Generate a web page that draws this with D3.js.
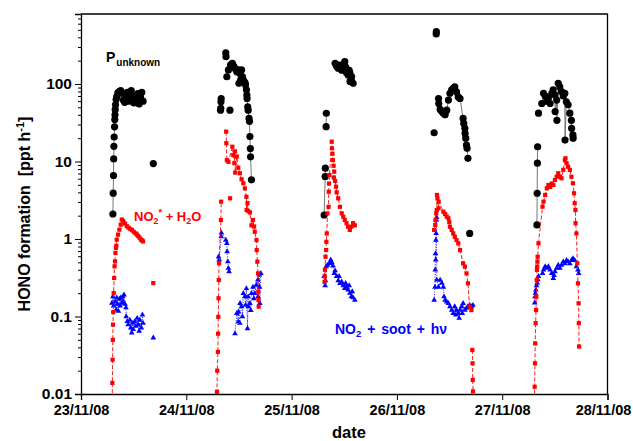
<!DOCTYPE html>
<html><head><meta charset="utf-8">
<script src="https://cdn.jsdelivr.net/npm/d3@7/dist/d3.min.js"></script>
<style>
body{margin:0;background:#fff;}
svg{display:block;font-family:Arial,"Liberation Sans",sans-serif;}
</style></head><body>
<svg id="chart" width="633" height="441"></svg>
<script>
// ---------- data ----------
const dayLabels = ["23/11/08","24/11/08","25/11/08","26/11/08","27/11/08","28/11/08"];
const yTicks = [0.01, 0.1, 1, 10, 100];
const yTickLabels = ["0.01", "0.1", "1", "10", "100"];

// [hours since 23/11/08 00:00, ppt h-1]; each inner array is one connected run
const pUnknown = [
  [[7.27,2.1],[7.34,3.9],[7.41,6.6],[7.45,10.8],[7.5,15.7],[7.55,20.7],[7.65,28],[7.7,34.7],[7.75,40],[7.8,46.6],[7.87,54],[8.01,63],[8.15,69],[8.39,77],[8.69,80],[9.05,82],[9.35,76],[9.65,62],[9.95,58],[10.25,65],[10.55,78],[10.85,60],[11.15,72],[11.45,82],[11.75,64],[12.05,57],[12.35,70],[12.65,60],[12.95,75],[13.25,55],[13.55,68],[13.85,78],[14.15,60]],
  [[16.48,9.4]],
  [[31.8,46],[31.85,48.6],[31.9,59],[31.95,65]],
  [[33.0,253],[33.05,225]],
  [[33.24,124],[33.6,152],[34.1,176],[34.5,185],[34.8,170],[35.1,159],[35.5,144],[35.85,152],[36.0,102],[36.2,137],[36.4,113],[36.6,152],[36.8,124],[37.0,113],[37.35,105],[37.5,98],[37.7,84],[37.8,72],[37.85,65],[38.0,50.6],[38.1,46],[38.3,36],[38.4,33],[38.5,21],[38.6,14.7],[38.65,11.5],[38.85,5.8]],
  [[33.95,46]],
  [[55.42,2.04],[55.65,6.4],[55.68,8.2]],
  [[55.87,28.1],[55.92,41.9]],
  [[57.92,185],[58.27,170],[58.62,160],[59.02,175],[59.42,150],[59.77,178],[60.12,194],[60.32,165],[60.52,140],[60.92,130],[61.12,150],[61.27,140],[61.32,108],[61.62,112],[61.67,125],[62.02,102]],
  [[80.49,23.5]],
  [[80.96,442],[80.99,473]],
  [[81.49,65],[81.54,56],[81.86,47],[82.24,44],[82.59,42],[82.99,40],[83.36,46],[83.74,62],[84.09,76],[84.49,84],[84.84,88],[85.19,92],[85.59,79],[85.99,68],[86.39,65],[87.09,36],[87.24,31],[87.49,26.8],[87.54,23],[87.69,20],[87.86,16.3],[87.99,14.8],[88.19,11]],
  [[88.59,1.18]],
  [[103.92,1.52],[103.97,3.89],[104.02,9.5],[104.07,15.5]],
  [[104.27,42]],
  [[105.02,56],[105.42,76],[105.82,70],[106.12,60],[106.52,66],[106.92,56],[107.32,76],[107.62,84],[108.02,72],[108.07,44],[108.42,62],[108.47,34],[108.77,102],[109.12,92],[109.52,80],[109.92,70],[110.27,76],[110.32,18.9],[110.62,59],[111.02,54],[111.42,42],[111.77,34],[111.82,26.8],[112.12,22],[112.17,20]]
];

const no2H2O = [
  [[7.1,0.006],[7.15,0.0139],[7.2,0.0277],[7.25,0.05],[7.3,0.0785],[7.35,0.114],[7.45,0.2],[7.55,0.314],[7.65,0.444],[7.75,0.515],[7.85,0.66],[7.95,0.766],[8.05,0.82],[8.15,0.98],[8.45,1.14],[8.75,1.32],[9.05,1.53],[9.3,1.78],[9.65,1.7],[10.05,1.58],[10.45,1.46],[10.85,1.4],[11.25,1.34],[11.65,1.3],[12.05,1.23],[12.45,1.18],[12.75,1.14],[13.05,1.09],[13.35,1.04],[13.65,0.98],[13.95,0.96],[14.15,0.93]],
  [[16.48,0.27]],
  [[30.95,0.005],[30.99,0.0107],[31.06,0.02],[31.2,0.035],[31.25,0.06],[31.3,0.099],[31.35,0.172],[31.4,0.296],[31.45,0.486],[31.9,1.76],[31.95,3.03]],
  [[33.08,24.3],[33.12,17.2],[33.24,10.4],[33.6,9.9],[34.5,15.5],[34.7,12.1],[34.95,9.5],[35.1,13.5],[35.15,7.2],[35.5,11.6],[35.85,8.3],[36.2,7.05],[36.6,5.9],[37.0,5.24],[37.35,4.5],[37.7,3.5],[37.75,2.37],[37.95,2.9],[38.1,2.3],[38.5,2.2],[38.85,1.5],[39.2,1.76],[39.45,1.45],[39.6,1.24],[40.0,0.97],[40.05,0.72],[40.2,0.51],[40.35,0.36],[40.4,0.209],[40.45,0.163],[40.5,0.134]],
  [[33.98,3.35]],
  [[55.52,0.28],[55.57,0.33],[55.6,0.4],[55.72,0.59],[55.87,0.72],[55.92,0.92],[56.02,1.18],[56.17,2.14],[56.42,2.6],[56.47,4.07],[56.52,5.2],[56.62,6.7],[57.15,18],[57.2,14.8],[57.32,12.6],[57.42,10.4],[57.57,8.8],[57.62,6.2],[57.72,7.4],[57.92,5.6],[58.12,4.73],[58.27,4.0],[58.62,3.35],[59.02,2.6],[59.42,2.14],[59.77,1.94],[60.12,1.76],[60.52,1.6],[60.87,1.44],[61.27,1.31],[61.62,1.44],[62.02,1.6],[62.42,1.5]],
  [[80.49,1.31],[80.74,1.52],[80.79,1.76],[80.96,2.14],[81.09,2.37],[81.14,3.7],[81.24,3.35],[81.49,2.49],[81.52,3.03],[82.59,2.25],[82.99,2.1],[83.36,1.94],[83.74,1.85],[83.94,1.65],[84.09,1.44],[84.49,1.31],[84.84,1.18],[85.19,1.07],[85.59,0.97],[85.99,0.88],[86.39,0.72],[87.09,0.486],[87.49,0.44],[87.86,0.36],[88.19,0.268],[88.59,0.134],[88.99,0.121]],
  [[89.19,0.037],[89.24,0.0249],[89.29,0.0152],[89.34,0.0108]],
  [[103.32,0.005],[103.39,0.0124],[103.47,0.0249],[103.52,0.045],[103.62,0.082],[103.72,0.121],[103.77,0.18],[103.87,0.296],[103.92,0.4],[103.97,0.44],[104.02,0.51],[104.07,0.59],[104.27,0.88],[105.19,2.61],[105.42,3.03],[105.79,3.7],[106.17,4.5],[106.52,4.97],[106.92,4.7],[107.29,5.2],[107.65,4.97],[108.02,5.77],[108.42,6.37],[108.77,7.05],[109.16,6.37],[109.52,6.07],[109.92,7.8],[110.29,10.4],[110.42,11],[110.67,9.5],[111.02,8.57],[111.42,7.8],[111.78,6.37],[112.12,5.24],[112.37,3.89],[112.52,2.89],[112.69,2.37],[112.72,1.6],[112.92,1.18],[113.12,0.486],[113.27,0.268],[113.42,0.148],[113.47,0.082],[113.52,0.041]]
];

const no2Soot = [
  [[7.05,0.149],[7.27,0.18],[7.42,0.137],[7.79,0.155],[8.02,0.122],[8.15,0.175],[8.31,0.145],[8.53,0.117],[8.75,0.168],[8.91,0.137],[9.06,0.175],[9.29,0.149],[9.51,0.18],[9.66,0.155],[9.81,0.19],[10.04,0.145],[10.25,0.13],[10.3,0.1],[10.55,0.0864],[10.75,0.0785],[11.15,0.09],[11.35,0.0713],[11.55,0.0617],[11.75,0.082],[11.9,0.068],[12.25,0.0864],[12.5,0.075],[12.8,0.095],[13.05,0.0785],[13.25,0.065],[13.4,0.09],[13.75,0.0713],[14.0,0.105],[14.15,0.082]],
  [[16.48,0.053]],
  [[31.35,0.59],[31.5,0.54],[31.95,1.07],[32.0,1.2],[33.0,0.97],[33.24,0.88],[33.3,0.69],[33.46,0.51],[33.6,0.42],[33.75,0.38]],
  [[35.1,0.06],[35.5,0.11],[35.85,0.0856],[35.9,0.115],[36.2,0.082],[36.25,0.148],[36.6,0.134],[36.8,0.1],[37.0,0.199],[37.35,0.18],[37.5,0.14],[37.7,0.23],[37.95,0.07],[38.1,0.18],[38.15,0.134],[38.5,0.148],[38.7,0.12],[38.85,0.199],[39.2,0.24],[39.4,0.17],[39.6,0.199],[39.95,0.254],[40.3,0.296],[40.35,0.18],[40.65,0.344],[40.7,0.24],[40.75,0.148],[41.0,0.36]],
  [[55.42,0.33],[55.65,0.25],[55.72,0.29],[55.87,0.44],[56.17,0.46],[56.62,0.486],[56.92,0.54],[57.15,0.5],[57.42,0.45],[57.72,0.36],[57.92,0.39],[58.27,0.33],[58.62,0.29],[58.82,0.33],[59.02,0.268],[59.42,0.28],[59.77,0.25],[60.12,0.23],[60.32,0.268],[60.52,0.24],[60.87,0.22],[61.12,0.25],[61.27,0.2],[61.62,0.18],[61.82,0.21],[62.02,0.175],[62.42,0.163]],
  [[80.49,0.163],[80.69,0.24],[80.74,0.4],[80.79,0.65],[80.84,0.54],[80.89,0.97],[80.94,1.18],[80.99,1.76],[81.04,1.9],[81.09,0.296],[81.49,0.24],[81.86,0.296],[82.24,0.27],[82.59,0.24],[82.74,0.18],[82.99,0.163],[83.36,0.155],[83.74,0.148],[84.09,0.134],[84.49,0.121],[84.84,0.11],[85.19,0.134],[85.44,0.105],[85.59,0.121],[85.99,0.11],[86.19,0.095],[86.39,0.121],[86.74,0.134],[86.89,0.11],[87.09,0.148],[87.49,0.121],[87.86,0.128],[88.19,0.134],[88.59,0.14],[88.99,0.134],[89.34,0.14]],
  [[103.42,0.15],[103.47,0.18],[103.57,0.2],[103.67,0.22],[103.82,0.25],[103.97,0.27],[104.12,0.3],[104.27,0.33],[105.19,0.36],[105.42,0.4],[105.79,0.44],[106.17,0.42],[106.52,0.44],[106.92,0.4],[107.29,0.36],[107.65,0.31],[107.82,0.34],[108.02,0.38],[108.42,0.42],[108.77,0.46],[109.16,0.42],[109.52,0.46],[109.92,0.51],[110.29,0.48],[110.67,0.53],[111.02,0.51],[111.42,0.48],[111.78,0.53],[112.12,0.56],[112.52,0.53],[112.92,0.44],[113.27,0.4],[113.42,0.36]]
];

// ---------- chart ----------
const svg = d3.select("#chart");
const t0 = Date.UTC(2008, 10, 23);
const toDate = h => new Date(t0 + h * 3600e3);
const dayDates = dayLabels.map((_, i) => new Date(t0 + i * 86400e3));

const x = d3.scaleUtc().domain([dayDates[0], dayDates[dayDates.length - 1]]).range([81, 607.5]);
const y = d3.scaleLog().domain([0.01, 800]).range([394, 14]);
const [x0, x1] = x.range();
const [yb, yt] = y.range();

svg.append("defs").append("clipPath").attr("id", "plotclip")
  .append("rect").attr("x", x0).attr("y", yt).attr("width", x1 - x0).attr("height", yb - yt);

const plot = svg.append("g").attr("clip-path", "url(#plotclip)");
const line = d3.line().x(d => x(toDate(d[0]))).y(d => y(d[1]));

function drawSeries(runs, cls, lineStyle, markFn) {
  const g = plot.append("g").attr("class", cls);
  g.selectAll("path.ln").data(runs.filter(r => r.length > 1)).join("path")
    .attr("class", "ln").attr("d", line).attr("fill", "none")
    .attr("stroke", lineStyle.stroke).attr("stroke-width", lineStyle.width)
    .attr("stroke-dasharray", lineStyle.dash || null);
  markFn(g, runs.flat());
}

drawSeries(pUnknown, "unknown", {stroke: "#666", width: 0.9}, (g, pts) => {
  g.selectAll("circle").data(pts).join("circle")
    .attr("cx", d => x(toDate(d[0]))).attr("cy", d => y(d[1])).attr("r", 3.6).attr("fill", "#000");
});
drawSeries(no2Soot, "soot", {stroke: "#0000ff", width: 0.9, dash: "1,1.5"}, (g, pts) => {
  const sym = d3.symbol(d3.symbolTriangle, 14);
  g.selectAll("path.m").data(pts).join("path").attr("class", "m")
    .attr("transform", d => `translate(${x(toDate(d[0]))},${y(d[1])})`)
    .attr("d", sym).attr("fill", "#0000ff");
});
drawSeries(no2H2O, "h2o", {stroke: "#ff0000", width: 0.9, dash: "4,2"}, (g, pts) => {
  const s = 4.2;
  g.selectAll("rect").data(pts).join("rect")
    .attr("x", d => x(toDate(d[0])) - s / 2).attr("y", d => y(d[1]) - s / 2)
    .attr("width", s).attr("height", s).attr("fill", "#ff0000");
});

// ---------- axes ----------
const yAxis = svg.append("g").attr("transform", `translate(${x0},0)`)
  .call(d3.axisLeft(y).tickValues(yTicks).tickFormat((d, i) => yTickLabels[i]).tickSize(6).tickPadding(3));
const minor = y.ticks().filter(v => Math.abs(Math.log10(v) - Math.round(Math.log10(v))) > 1e-6);
svg.append("g").attr("transform", `translate(${x0},0)`)
  .call(d3.axisLeft(y).tickValues(minor).tickFormat("").tickSize(3))
  .call(g => g.select(".domain").remove());

const xAxis = svg.append("g").attr("transform", `translate(0,${yb})`)
  .call(d3.axisBottom(x).tickValues(dayDates).tickFormat((d, i) => dayLabels[i]).tickSize(6).tickPadding(5));

svg.selectAll(".tick text").attr("font-family", "Arial, 'Liberation Sans', sans-serif")
  .attr("font-weight", "bold").attr("fill", "#000");
yAxis.selectAll(".tick text").attr("font-size", 15.5);
xAxis.selectAll(".tick text").attr("font-size", 14.5);
// keep the last date label inside the window
xAxis.selectAll(".tick text").filter((d, i, n) => i === n.length - 1).attr("dx", -4.5);
svg.selectAll(".domain").attr("stroke", "#000").attr("stroke-width", 1.3);
svg.selectAll(".tick line").attr("stroke", "#000").attr("stroke-width", 1);

// frame top and right
svg.append("path").attr("d", `M${x0},${yt}H${x1}V${yb}`)
  .attr("fill", "none").attr("stroke", "#000").attr("stroke-width", 1.3);

// ---------- labels ----------
const yl = svg.append("text").attr("transform", "translate(30,214) rotate(-90)")
  .attr("text-anchor", "middle").attr("font-weight", "bold").attr("font-size", 16).attr("fill", "#000");
yl.append("tspan").text("HONO formation");
yl.append("tspan").attr("dx", 9).text("[ppt h");
yl.append("tspan").attr("font-size", 11).attr("dy", -6).text("-1");
yl.append("tspan").attr("dy", 6).text("]");

svg.append("text").attr("x", 349).attr("y", 438).attr("text-anchor", "middle")
  .attr("font-weight", "bold").attr("font-size", 16.5).text("date");

const pu = svg.append("text").attr("x", 106).attr("y", 62).attr("font-weight", "bold").attr("font-size", 14).attr("fill", "#000");
pu.append("tspan").text("P");
pu.append("tspan").attr("font-size", 10).attr("dx", 1).attr("dy", 4).text("unknown");

const lr = svg.append("text").attr("x", 134).attr("y", 221).attr("font-weight", "bold").attr("font-size", 13).attr("fill", "#ff0000");
lr.append("tspan").text("NO");
lr.append("tspan").attr("font-size", 9).attr("dy", 3).text("2");
lr.append("tspan").attr("font-size", 9).attr("dy", -9).text("*");
lr.append("tspan").attr("dy", 6).text(" + H");
lr.append("tspan").attr("font-size", 9).attr("dy", 3).text("2");
lr.append("tspan").attr("dy", -3).text("O");

const lb = svg.append("text").attr("x", 335).attr("y", 334).attr("font-weight", "bold").attr("font-size", 14)
  .attr("word-spacing", 2).attr("fill", "#0000ff");
lb.append("tspan").text("NO");
lb.append("tspan").attr("font-size", 9.5).attr("dy", 3).text("2");
lb.append("tspan").attr("dy", -3).text(" + soot + hν");
</script>
</body></html>
